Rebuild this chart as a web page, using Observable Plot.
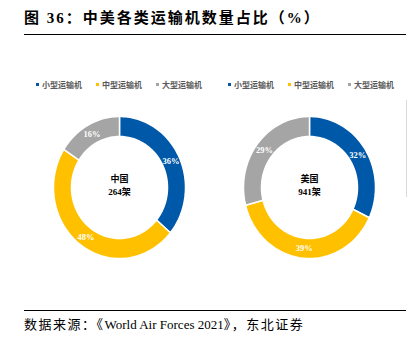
<!DOCTYPE html>
<html><head><meta charset="utf-8">
<script src="https://cdn.jsdelivr.net/npm/d3@7"></script>
<script src="https://cdn.jsdelivr.net/npm/@observablehq/plot@0.6"></script>
<style>
body{margin:0;background:#fff;}
#wrap{position:relative;width:413px;height:346px;background:#fff;overflow:hidden;font-family:"Liberation Serif","Noto Sans CJK SC",serif;}
#title{position:absolute;left:24px;top:9px;font-size:15px;font-weight:bold;line-height:18px;color:#000;white-space:nowrap;letter-spacing:2px;}
.rule{position:absolute;left:24px;width:382px;height:1px;background:#000;}
.vline{position:absolute;left:406px;top:100px;width:1px;height:97px;background:#d9d9d9;}
.legend{position:absolute;top:79px;font-size:8px;color:#595959;white-space:nowrap;display:flex;font-family:"Liberation Serif","Noto Sans CJK SC",serif;font-weight:bold;}
.legend span.item{display:inline-flex;align-items:center;margin-right:14px;}
.legend span.sw{display:inline-block;width:3px;height:3px;margin-right:3px;}
#chart{position:absolute;left:0;top:92px;}
#source{position:absolute;left:24px;top:317px;font-size:13px;line-height:16px;color:#000;white-space:nowrap;letter-spacing:1.5px;}
#source .lat{letter-spacing:0;}
</style></head>
<body><div id="wrap">
<div id="title">图 36：中美各类运输机数量占比（%）</div>
<div class="rule" style="top:34px"></div>
<div class="legend" id="leg0" style="left:36px"></div>
<div class="legend" id="leg1" style="left:228px"></div>
<div id="chart"></div>
<div class="vline"></div>
<div class="rule" style="top:310px"></div>
<div id="source">数据来源：《<span class="lat">World Air Forces 2021</span>》，东北证券</div>
</div>
<script>
const countries = ["中国", "美国"];
const totals = ["264架", "941架"];
const types = ["小型运输机", "中型运输机", "大型运输机"];
const chinaShares = [36, 48, 16];
const usaShares = [32, 39, 29];
const colors = ["#0058A8", "#FFC000", "#A5A5A5"];

const seriesShares = [chinaShares, usaShares];

// legends
[0,1].forEach(k => {
  const leg = document.getElementById("leg" + k);
  types.forEach((t, i) => {
    const it = document.createElement("span"); it.className = "item";
    const sw = document.createElement("span"); sw.className = "sw"; sw.style.background = colors[i];
    it.appendChild(sw); it.appendChild(document.createTextNode(t));
    leg.appendChild(it);
  });
});

// layout (px per unit = 95)
const unit = 95;
const rxO = 66 / unit, ryO = 71 / unit;
const rxI = 48 / unit, ryI = 51 / unit;
const rxM = (rxO + rxI) / 2, ryM = (ryO + ryI) / 2;
const spacing = 2; // donut centres 2 units apart

const ring = [];
const labels = [];
const centers = [];
countries.forEach((c, ci) => {
  const cx = ci * spacing;
  const shares = seriesShares[ci];
  const sum = d3.sum(shares);
  let acc = 0;
  shares.forEach((v, i) => {
    const f0 = acc / sum, f1 = (acc + v) / sum;
    acc += v;
    const key = c + "-" + types[i];
    const n = Math.max(8, Math.ceil((f1 - f0) * 200));
    for (let j = 0; j <= n; j++) {
      const a = 2 * Math.PI * (f0 + (f1 - f0) * j / n);
      ring.push({key, type: types[i], x: cx + rxO * Math.sin(a), y: ryO * Math.cos(a)});
    }
    for (let j = n; j >= 0; j--) {
      const a = 2 * Math.PI * (f0 + (f1 - f0) * j / n);
      ring.push({key, type: types[i], x: cx + rxI * Math.sin(a), y: ryI * Math.cos(a)});
    }
    const am = 2 * Math.PI * (f0 + f1) / 2;
    labels.push({x: cx + rxM * Math.sin(am), y: ryM * Math.cos(am), text: v + "%"});
  });
  centers.push({x: cx, y: 0.03, text: c + "\n" + totals[ci]});
});

const chart = Plot.plot({
  width: 413,
  height: 190,
  margin: 0,
  x: {domain: [-119 / unit, (413 - 119) / unit], axis: null},
  y: {domain: [-1, 1], axis: null},
  color: {domain: types, range: colors},
  style: {background: "transparent", fontFamily: "'Liberation Serif','Noto Sans CJK SC',serif"},
  marks: [
    Plot.line(ring, {x: "x", y: "y", z: "key", fill: "type", stroke: "white", strokeWidth: 1.5, curve: "linear-closed"}),
    Plot.text(labels, {x: "x", y: "y", text: "text", fill: "white", fontSize: 8.5, fontWeight: "bold"}),
    Plot.text(centers, {x: "x", y: "y", text: "text", fill: "black", fontSize: 9, fontWeight: "bold", lineHeight: 1.35})
  ]
});
document.getElementById("chart").appendChild(chart);
</script>
</body></html>
